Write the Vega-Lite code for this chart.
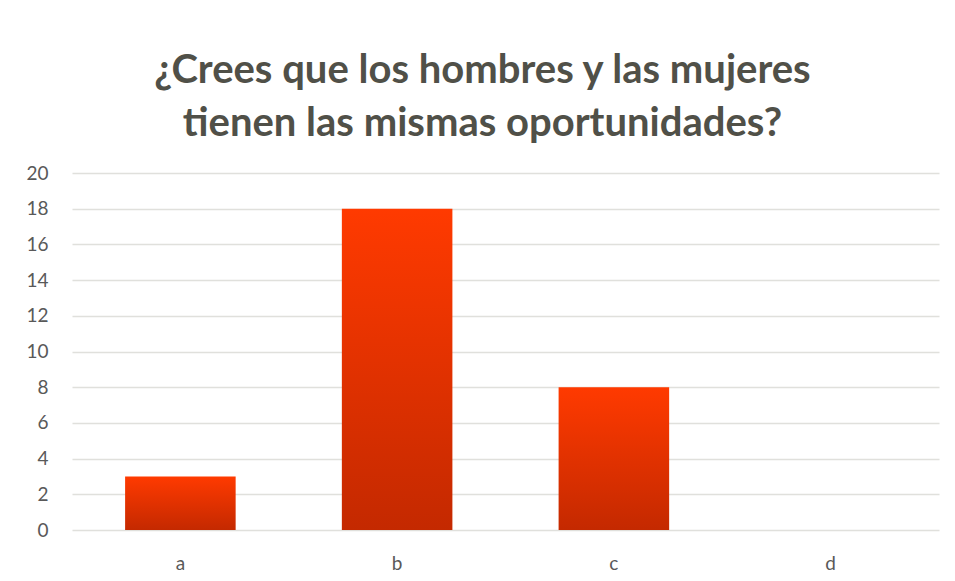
{
  "$schema": "https://vega.github.io/schema/vega-lite/v6.json",
  "autosize": {"type": "none"},
  "width": 867,
  "height": 357,
  "padding": {"left": 72, "top": 173, "right": 16, "bottom": 51},
  "background": "white",
  "title": {
    "text": ["¿Crees que los hombres y las mujeres", "tienen las mismas oportunidades?"],
    "font": "Lato",
    "fontSize": 40,
    "fontWeight": "bold",
    "color": "#505048",
    "anchor": "middle",
    "frame": "bounds",
    "lineHeight": 53,
    "offset": 20
  },
  "data": {
    "values": [
      {"option": "a", "count": 3},
      {"option": "b", "count": 18},
      {"option": "c", "count": 8},
      {"option": "d", "count": 0}
    ]
  },
  "mark": {
    "type": "bar",
    "color": {
      "gradient": "linear",
      "x1": 0, "y1": 0, "x2": 0, "y2": 1,
      "stops": [
        {"offset": 0, "color": "#FF3A00"},
        {"offset": 1, "color": "#C42900"}
      ]
    }
  },
  "encoding": {
    "x": {
      "field": "option",
      "type": "nominal",
      "scale": {"paddingInner": 0.49, "paddingOuter": 0.245},
      "axis": {
        "title": null,
        "labelAngle": 0,
        "labelFont": "Lato",
        "labelFontSize": 19,
        "labelColor": "#595959",
        "labelPadding": 24,
        "ticks": false,
        "domain": false
      }
    },
    "y": {
      "field": "count",
      "type": "quantitative",
      "scale": {"domain": [0, 20]},
      "axis": {
        "title": null,
        "values": [0, 2, 4, 6, 8, 10, 12, 14, 16, 18, 20],
        "labelFont": "Lato",
        "labelFontSize": 19,
        "labelColor": "#595959",
        "labelPadding": 24,
        "ticks": false,
        "domain": false,
        "grid": true,
        "gridColor": "#e0e0dc",
        "gridWidth": 1.5
      }
    }
  },
  "config": {
    "view": {"stroke": null}
  }
}
